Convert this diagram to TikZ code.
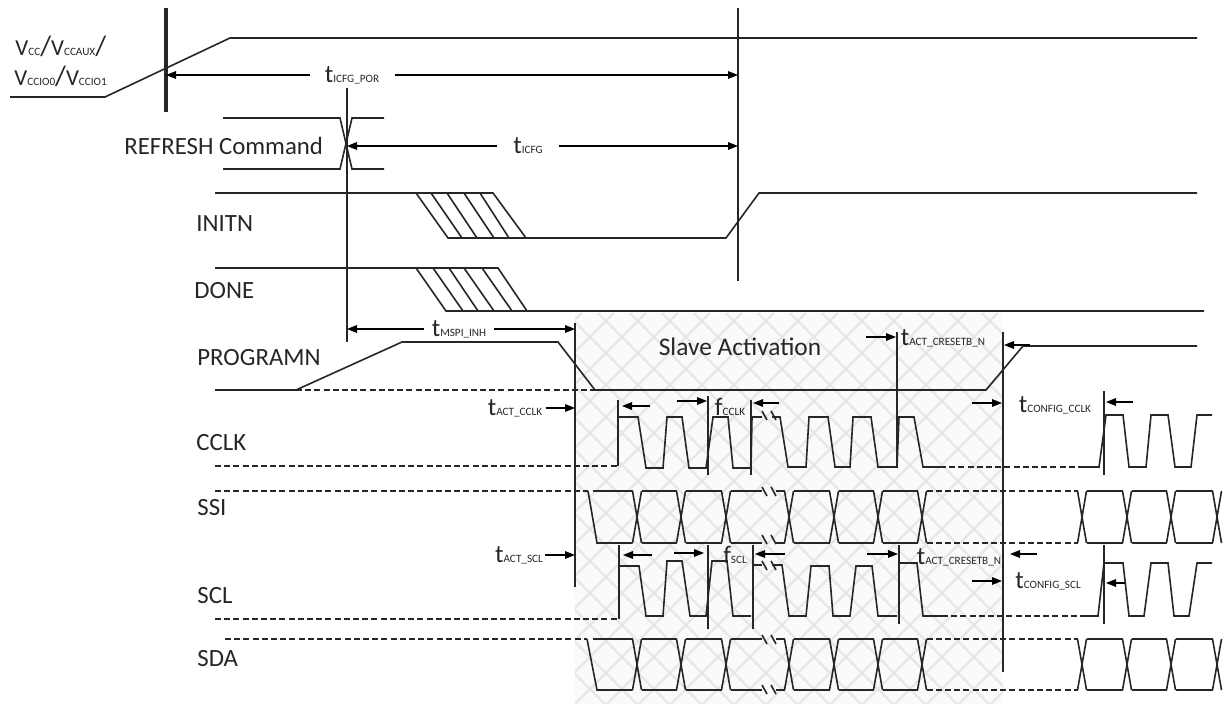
\documentclass[tikz,border=0pt]{standalone}
\usepackage{xcolor}
\usepackage{fontspec}
\setmainfont{Carlito}
\usetikzlibrary{arrows.meta}
\definecolor{waveink}{HTML}{262626}
\definecolor{hatchink}{HTML}{E7E7E7}
\newcommand{\tsub}[2]{#1{\fontsize{5.6}{7}\selectfont #2}}
\newcommand{\tall}{{\fontsize{14}{14}\selectfont /}}
\tikzset{
  wave/.style={draw=waveink, line width=0.8pt, line join=miter},
  dashwave/.style={draw=waveink, line width=0.8pt, dash pattern=on 3pt off 1.6pt},
  vline/.style={draw=waveink, line width=0.8pt},
  dimarrow/.style={draw=black, line width=0.6pt, -{Triangle[length=5pt,width=3.8pt]}},
  siglabel/.style={anchor=west, inner sep=0pt, text=waveink, font=\fontsize{12.4}{14}\selectfont},
  timelabel/.style={inner ysep=0pt, inner xsep=5pt, text=waveink, font=\fontsize{12.6}{14}\selectfont},
}
\begin{document}
\begin{tikzpicture}[x=0.5pt, y=-0.5pt]
  \useasboundingbox (0,0) rectangle (1224,704);

  % Slave activation region
  \fill[white!98!black] (575,313) rectangle (1003,704);
  \begin{scope}
    \clip (575,313) rectangle (1003,704);
    \foreach \d in {150,182,...,1010} {
      \draw[hatchink, line width=1.1pt] (\d,313) -- ({\d+400},713);
      \draw[hatchink, line width=1.1pt] ({\d+400},313) -- (\d,713);
    }
  \end{scope}
  \node[font=\fontsize{12.7}{14}\selectfont, text=waveink, inner sep=0pt] (slave) at (740,347) {Slave Activation};

  % Signal names
  \node[siglabel, font=\fontsize{11.4}{14}\selectfont] (vcc) at (15,46) {\tsub{V}{CC}\tall\tsub{V}{CCAUX}\tall};
  \node[siglabel, font=\fontsize{11.4}{14}\selectfont] (vccio) at (14,76) {\tsub{V}{CCIO0}\tall\tsub{V}{CCIO1}};
  \node[siglabel] (refresh) at (124,146) {REFRESH Command};
  \node[siglabel] (initn) at (196,224) {INITN};
  \node[siglabel] (done) at (194,291) {DONE};
  \node[siglabel] (programn) at (197,358) {PROGRAMN};
  \node[siglabel] (cclk) at (196,443) {CCLK};
  \node[siglabel] (ssi) at (197,508) {SSI};
  \node[siglabel] (scl) at (197,596) {SCL};
  \node[siglabel] (sda) at (197,659) {SDA};

  % Vertical markers
  \draw[vline, line width=1.6pt] (166,8) coordinate (mPor) -- (166,112);
  \draw[vline] (738,8) coordinate (mIcfg) -- (738,281);
  \draw[vline] (347,88) coordinate (mRef) -- (347,342);
  \draw[vline] (575,323) coordinate (mAct) -- (575,587);
  \draw[vline] (897,332) -- (897,467);
  \draw[vline] (1003,332) coordinate (mEnd) -- (1003,672);
  \draw[vline] (618,400) -- (618,466);
  \draw[vline] (708,396) -- (708,475);
  \draw[vline] (751,400) -- (751,475);
  \draw[vline] (1104,391) -- (1104,475);
  \draw[vline] (619,545) -- (619,619);
  \draw[vline] (708,545) -- (708,629);
  \draw[vline] (753,545) -- (753,629);
  \draw[vline] (899,545) -- (899,624);
  \draw[vline] (1104,545) -- (1104,624);

  % Power and command
  \draw[wave] (10,97) -- (105,97) -- (230,38) -- (1197,38);
  \draw[wave] (223,118) -- (340,118) -- (352,169) -- (384,169);
  \draw[wave] (223,169) -- (340,169) -- (352,118) -- (384,118);

  % INITN
  \draw[wave] (215,193) -- (493,193) -- (526,238);
  \draw[wave] (416,193) -- (448,238) -- (726,238) -- (759,193) -- (1197,193);
  \foreach \xa/\xb in {431/462,447/477,464/494,480/509} {
    \draw[wave] (\xa,193) -- (\xb,238);
  }

  % DONE
  \draw[wave] (215,268) -- (498,268) -- (527,311);
  \draw[wave] (416,268) -- (446,311) -- (1204,311);
  \foreach \xa/\xb in {433/463,449/478,464/494,482/512} {
    \draw[wave] (\xa,268) -- (\xb,311);
  }

  % PROGRAMN
  \draw[wave] (296,390) -- (402,342) -- (558,342) -- (595,390) -- (986,390) -- (1023,346) -- (1197,346);
  \draw[wave] (215,390) -- (296,390);
  \draw[dashwave] (296,390) -- (595,390);

  % CCLK
  \draw[dashwave] (215,466) -- (618,466);
  \draw[wave] (618,466) -- (618,417) -- (638,417) -- (646,468) -- (663,468) -- (667,417) -- (682,417) -- (689,468)
    -- (706,468) -- (713,417) -- (728,417) -- (733,468) -- (751,468) -- (752,417) -- (762,417);
  \draw[wave] (772,417) -- (780,417) -- (788,467) -- (806,467) -- (809,417) -- (828,417) -- (835,467) -- (850,467)
    -- (853,417) -- (871,417) -- (878,467) -- (897,467) -- (899,417) -- (914,417) -- (923,467) -- (940,467);
  \draw[dashwave] (940,467) -- (1083,467);
  \draw[wave] (1083,467) -- (1099,467) -- (1106,415) -- (1123,415) -- (1129,467) -- (1146,467) -- (1151,415)
    -- (1168,415) -- (1175,467) -- (1191,467) -- (1197,415) -- (1212,415);

  % SCL
  \draw[dashwave] (215,619) -- (619,619);
  \draw[wave] (619,566) -- (639,566) -- (646,616) -- (663,616) -- (667,561) -- (682,561) -- (690,616) -- (706,616)
    -- (712,561) -- (727,561) -- (733,616) -- (751,616);
  \draw[wave] (753,565) -- (762,565);
  \draw[wave] (772,565) -- (782,565) -- (789,616) -- (806,616) -- (811,566) -- (829,566) -- (833,616) -- (850,616)
    -- (856,566) -- (872,566) -- (878,616) -- (897,616);
  \draw[wave] (899,563) -- (917,563) -- (923,616) -- (942,616);
  \draw[dashwave] (942,616) -- (1083,616);
  \draw[wave] (1083,616) -- (1098,616) -- (1104,563) -- (1123,563) -- (1129,616) -- (1144,616) -- (1151,563)
    -- (1168,563) -- (1174,616) -- (1189,616) -- (1197,563) -- (1212,563);

  % SSI and SDA busses
  \foreach \yt/\yb/\ydash/\xs in {491/543/215/588, 639/690/225/587} {
    \draw[dashwave] (\ydash,\yt) -- (\xs,\yt);
    \draw[wave] (\xs,\yt) -- (597,\yb) -- (632.5,\yb);
    \draw[wave] (593,\yt) -- (632.5,\yt);
    \foreach \c in {637,681,726,789,834,878,922,1082,1127,1171,1217} {
      \draw[wave] ({\c-4.5},\yt) -- ({\c+4.5},\yb);
      \draw[wave] ({\c-4.5},\yb) -- ({\c+4.5},\yt);
    }
    \foreach \xa/\xb in {641.5/676.5,685.5/721.5,730.5/762,776/784.5,793.5/829.5,838.5/873.5,882.5/917.5,1086.5/1122.5,1131.5/1166.5,1175.5/1212.5} {
      \draw[wave] (\xa,\yt) -- (\xb,\yt);
      \draw[wave] (\xa,\yb) -- (\xb,\yb);
    }
    \draw[dashwave] (926.5,\yt) -- (1077.5,\yt);
    \draw[dashwave] (926.5,\yb) -- (1077.5,\yb);
  }

  % Break ticks
  \foreach \yy in {411,487,535,561,635,685} {
    \draw[wave] (762,\yy) -- (767,{\yy+9});
    \draw[wave] (771,\yy) -- (776,{\yy+9});
  }

  % Timing labels
  \node[timelabel, inner xsep=7.5pt] (tpor) at (352,75) {\tsub{t}{ICFG\_POR}};
  \draw[dimarrow] (tpor) -- (tpor -| mPor);
  \draw[dimarrow] (tpor) -- (tpor -| mIcfg);
  \node[timelabel, inner xsep=8pt] (ticfg) at (528,146) {\tsub{t}{ICFG}};
  \draw[dimarrow] (ticfg) -- (ticfg -| mRef);
  \draw[dimarrow] (ticfg) -- (ticfg -| mIcfg);
  \node[timelabel, inner xsep=3.7pt] (tmspi) at (459,329) {\tsub{t}{MSPI\_INH}};
  \draw[dimarrow] (tmspi) -- (tmspi -| mRef);
  \draw[dimarrow] (tmspi) -- (tmspi -| mAct);
  \node[timelabel, inner xsep=1.5pt] (tccl) at (515,408) {\tsub{t}{ACT\_CCLK}};
  \draw[dimarrow] (tccl) -- (tccl -| mAct);
  \node[timelabel, inner xsep=1pt] (tscl) at (519,555) {\tsub{t}{ACT\_SCL}};
  \draw[dimarrow] (tscl) -- (tscl -| mAct);

  \node[timelabel] (tcr) at (943,338) {\tsub{t}{ACT\_CRESETB\_N}};
  \node[timelabel] (tcrs) at (959,557) {\tsub{t}{ACT\_CRESETB\_N}};
  \node[timelabel] (tcfc) at (1055,405) {\tsub{t}{CONFIG\_CCLK}};
  \node[timelabel] (tcfs) at (1048,581) {\tsub{t}{CONFIG\_SCL}};
  \node[timelabel] (fcclk) at (730,407) {\tsub{f}{CCLK}};
  \node[timelabel] (fscl) at (735,555) {\tsub{f}{SCL}};

  % Free arrows beside the markers
  \foreach \xa/\xb/\yy in {866/896/337, 1030/1004/345, 650/622/406, 677/707/401, 779/753/403, 972/1002/403, 1133/1106/402,
    652/623/555, 674/704/553, 785/755/554, 867/898/554, 1037/1010/554, 972/1002/581, 1125/1106/583} {
    \draw[dimarrow] (\xa,\yy) -- (\xb,\yy);
  }
\end{tikzpicture}
\end{document}
